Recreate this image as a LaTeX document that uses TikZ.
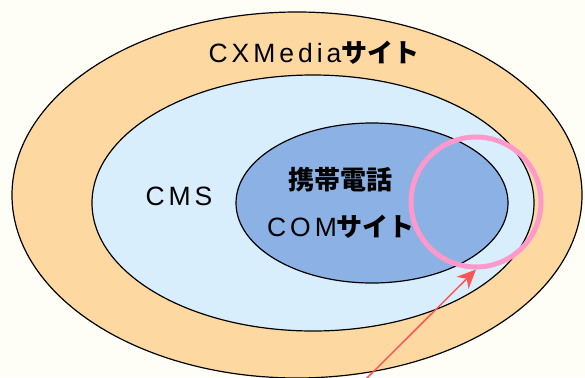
\documentclass[tikz,border=0pt]{standalone}
\usepackage{fontspec}
\setmainfont{Liberation Sans}
\newfontfamily\latinfont[LetterSpace=15]{Liberation Sans}
\newfontfamily\jpfont{Noto Sans CJK JP}
\usetikzlibrary{shapes.geometric,arrows.meta}

\definecolor{bgcream}{HTML}{FFFEF6}
\definecolor{cxorange}{HTML}{FDD9A1}
\definecolor{cmsblue}{HTML}{D8EEFD}
\definecolor{comblue}{HTML}{8CB1E5}
\definecolor{ringpink}{HTML}{FF99CC}
\definecolor{arrowred}{HTML}{FF5555}

\tikzset{
    siteellipse/.style={draw, ellipse, line width=1.2pt, inner sep=0pt},
    sitelabel/.style={inner sep=0pt, font=\fontsize{26.5}{28}\latinfont},
    jplabel/.style={inner sep=0pt, font=\fontsize{26}{28}\jpfont\bfseries},
}

\begin{document}
\begin{tikzpicture}[x=1pt,y=-1pt]

    % Background
    \fill[bgcream] (0,0) rectangle (585,377);
    \useasboundingbox (0,0) rectangle (585,377);
    \clip (0,0) rectangle (585,377);

    % Ellipse with label
    \node[siteellipse,
        fill=cxorange,
        minimum width=570pt,
        minimum height=366pt] (cx_ell) at (297,195){};
    \node[sitelabel] (cx_text) at (314,53) {CXMedia{\jpfont\bfseries\fontsize{26}{28}\selectfont サイト}};

    % Ellipse with label
    \node[siteellipse,
        fill=cmsblue,
        minimum width=442pt,
        minimum height=256pt] (cms_ell) at (313,203){};
    \node[sitelabel] (cms_text) at (179,196) {CMS};

    % Ellipse with labels
    \node[siteellipse,
        fill=comblue,
        minimum width=272pt,
        minimum height=160pt] (com_ell) at (372,203){};
    \node[jplabel] (phone_text) at (340,180) {携帯電話};
    \node[sitelabel] (com_text) at (341,227) {COM{\jpfont\bfseries\fontsize{26}{28}\selectfont サイト}};

    % Highlight ring and arrow
    \node[draw=ringpink,
        circle,
        line width=5pt,
        minimum size=130pt,
        inner sep=0pt] (ring_circ) at (476,202){};

    \coordinate (arrow_tail) at (365,380);
    \draw[arrowred, line width=1.5pt, -{Stealth[length=19pt,width=17pt,inset=6pt]}]
        (arrow_tail) -- (ring_circ.south);

\end{tikzpicture}
\end{document}
